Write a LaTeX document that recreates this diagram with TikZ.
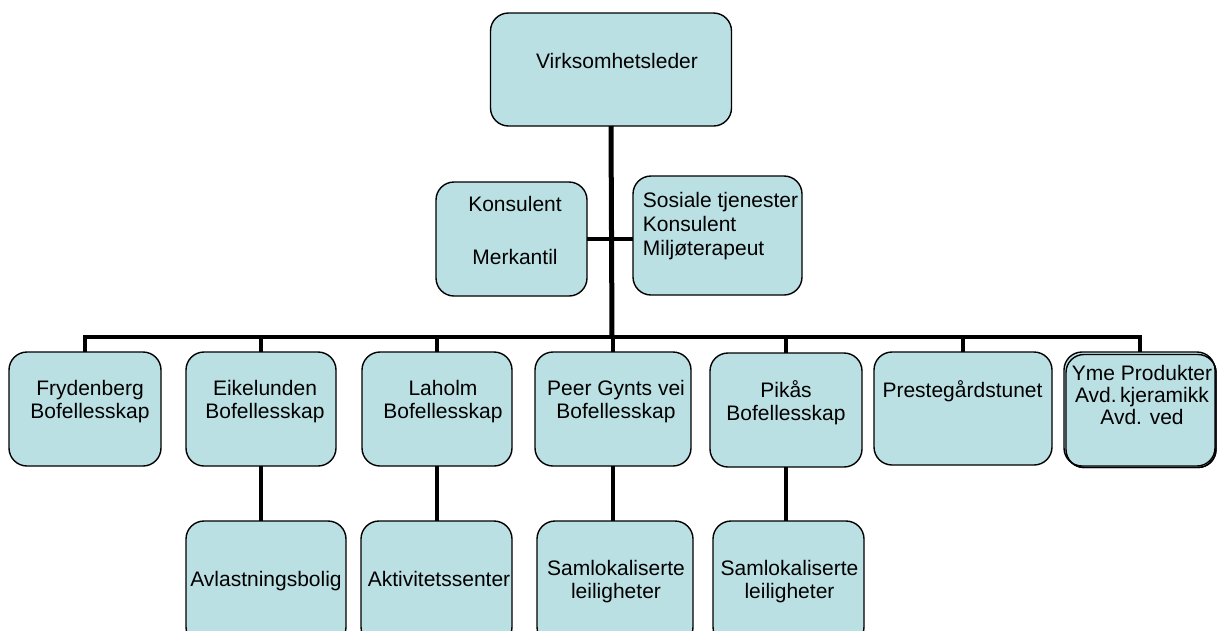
\documentclass[tikz,border=0pt]{standalone}
\usepackage{fontspec}
\setmainfont{Liberation Sans}
\definecolor{boxfill}{RGB}{187,224,227}
\begin{document}
\begin{tikzpicture}[x=1pt,y=-1pt,
  box/.style={draw=black, line width=1.4pt, fill=boxfill, rounded corners=18pt, inner sep=0pt, outer sep=0pt},
  conn/.style={line width=4pt, black},
  lbl/.style={font=\fontsize{21}{23.5}\selectfont, inner sep=0pt, align=center, text=black}]
\useasboundingbox (0,0) rectangle (1221,630);
\clip (0,0) rectangle (1221,630);
\fill[white] (0,0) rectangle (1221,630);
\coordinate (bus) at (612,337);
\path
  node[box, minimum width=241pt, minimum height=113pt] (top) at (611,69.5) {}
  node[box, minimum width=151pt, minimum height=114pt] (kons) at (511.5,239) {}
  node[box, minimum width=169pt, minimum height=119pt] (sos) at (717.5,235.5) {}
  node[box, minimum width=152pt, minimum height=114pt] (fry) at (85,409) {}
  node[box, minimum width=150pt, minimum height=114pt] (eik) at (261,409) {}
  node[box, minimum width=150pt, minimum height=114pt] (lah) at (437,409) {}
  node[box, minimum width=156pt, minimum height=114pt] (peer) at (613,409) {}
  node[box, minimum width=152pt, minimum height=114pt] (pik) at (786,410) {}
  node[box, minimum width=178pt, minimum height=113pt] (pre) at (963,408.5) {}
  node[box, minimum width=150pt, minimum height=113pt] (yme2) at (1141,411) {}
  node[box, minimum width=151pt, minimum height=114pt] (yme) at (1139.5,409) {}
  node[box, minimum width=160pt, minimum height=124pt] (avl) at (266,583) {}
  node[box, minimum width=151pt, minimum height=124pt] (akt) at (436.5,583) {}
  node[box, minimum width=156pt, minimum height=124pt] (sam1) at (615,583) {}
  node[box, minimum width=151pt, minimum height=124pt] (sam2) at (788.5,583) {};
\draw[line width=1.4pt, rounded corners=18pt] (yme2.north west) rectangle (yme2.south east);
% connectors
\draw[conn, line width=5pt] (top.south) -- (bus);
\draw[conn] (kons.east) -- (kons.east -| sos.west);
\draw[conn] (fry.north) -- (fry.north |- bus) -- (yme.north |- bus) -- (yme.north);
\draw[conn] (eik.north) -- (eik.north |- bus);
\draw[conn] (lah.north) -- (lah.north |- bus);
\draw[conn] (peer.north) -- (peer.north |- bus);
\draw[conn] (pik.north) -- (pik.north |- bus);
\draw[conn] (pre.north) -- (pre.north |- bus);
\draw[conn] (eik.south) -- (eik.south |- avl.north);
\draw[conn] (lah.south) -- (lah.south |- akt.north);
\draw[conn] (peer.south) -- (peer.south |- sam1.north);
\draw[conn] (pik.south) -- (pik.south |- sam2.north);
% labels
\node[lbl, anchor=base] (ttop) at (617,68.5) {Virksomhetsleder};
\node[lbl, anchor=base] (tkons1) at (515,211.7) {Konsulent};
\node[lbl, anchor=base] (tkons2) at (515,264.3) {Merkantil};
\node[lbl, anchor=north west, align=left, font=\fontsize{21}{24}\selectfont] (tsos) at (642.7,192.3) {Sosiale tjenester\\Konsulent\\Miljøterapeut};
\node[lbl, anchor=north] (tfry) at (90,380) {Frydenberg\\Bofellesskap};
\node[lbl, anchor=north] (teik) at (265,380) {Eikelunden\\Bofellesskap};
\node[lbl, anchor=north] (tlah) at (443,380) {Laholm\\Bofellesskap};
\node[lbl, anchor=north] (tpeer) at (616,380) {Peer Gynts vei\\Bofellesskap};
\node[lbl, anchor=north] (tpik) at (786,380) {Pikås\\Bofellesskap};
\node[lbl, anchor=base] (tpre) at (962.5,397) {Prestegårdstunet};
\node[lbl, anchor=north, font=\fontsize{21}{22}\selectfont] (tyme) at (1142,365) {Yme Produkter\\Avd.\,kjeramikk\\Avd. ved};
\node[lbl, anchor=base] (tavl) at (266,586.7) {Avlastningsbolig};
\node[lbl, anchor=base] (takt) at (439,586.5) {Aktivitetssenter};
\node[lbl, anchor=north] (tsam1) at (616,560) {Samlokaliserte\\leiligheter};
\node[lbl, anchor=north] (tsam2) at (789.5,560) {Samlokaliserte\\leiligheter};
\end{tikzpicture}
\end{document}
